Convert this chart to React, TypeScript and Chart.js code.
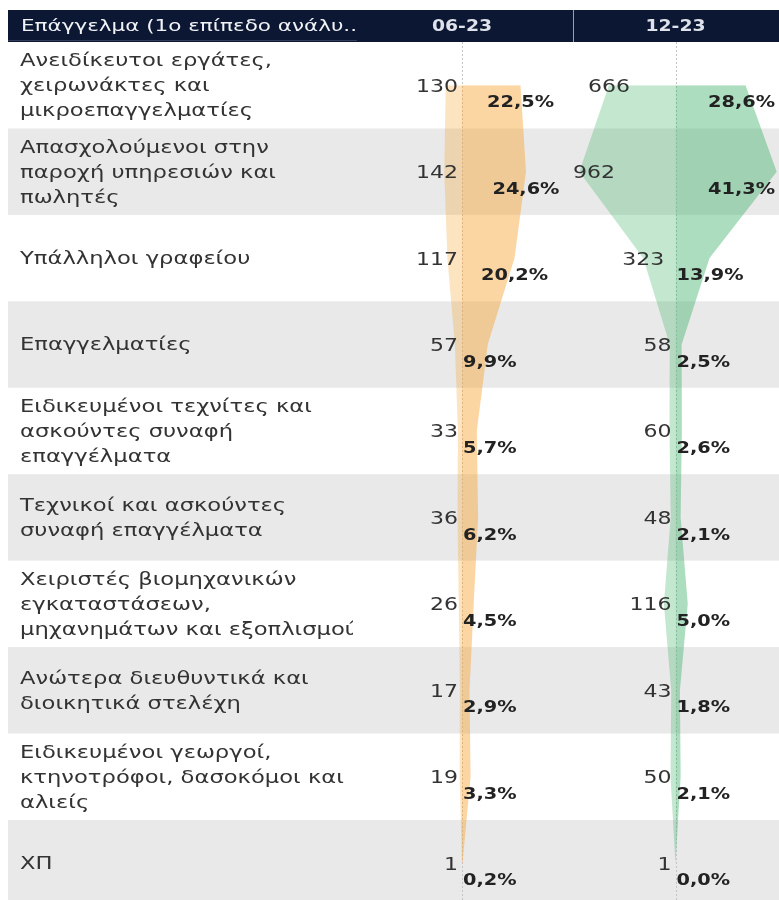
import React, { useEffect, useRef } from 'react';
import { Chart, registerables } from 'chart.js';

Chart.register(...registerables);

// ---------- data ----------
const headerLabel = 'Επάγγελμα (1ο επίπεδο ανάλυ..';
const periods = ['06-23', '12-23'];
const categories = [
  'Ανειδίκευτοι εργάτες,\nχειρωνάκτες και\nμικροεπαγγελματίες',
  'Απασχολούμενοι στην\nπαροχή υπηρεσιών και\nπωλητές',
  'Υπάλληλοι γραφείου',
  'Επαγγελματίες',
  'Ειδικευμένοι τεχνίτες και\nασκούντες συναφή\nεπαγγέλματα',
  'Τεχνικοί και ασκούντες\nσυναφή επαγγέλματα',
  'Χειριστές βιομηχανικών\nεγκαταστάσεων,\nμηχανημάτων και εξοπλισμού',
  'Ανώτερα διευθυντικά και\nδιοικητικά στελέχη',
  'Ειδικευμένοι γεωργοί,\nκτηνοτρόφοι, δασοκόμοι και\nαλιείς',
  'ΧΠ',
];
const counts0623 = [130, 142, 117, 57, 33, 36, 26, 17, 19, 1];
const shares0623 = [22.5, 24.6, 20.2, 9.9, 5.7, 6.2, 4.5, 2.9, 3.3, 0.2];
const counts1223 = [666, 962, 323, 58, 60, 48, 116, 43, 50, 1];
const shares1223 = [28.6, 41.3, 13.9, 2.5, 2.6, 2.1, 5.0, 1.8, 2.1, 0.0];

// ---------- layout / style ----------
const CANVAS_W = 779;
const CANVAS_H = 910;
const TABLE_LEFT = 8;
const HEADER_TOP = 10;
const HEADER_BOTTOM = 42;
const PLOT_LEFT = 357;
const PANE_SPLIT = 573;
const PLOT_BOTTOM = 906.4;
const PLOT_W = CANVAS_W - PLOT_LEFT;
const CENTER_A = 105; // zero offset inside plot, pane A
const CENTER_B = 318.5; // zero offset inside plot, pane B
const PX_PCT_A = 2.6;
const PX_CNT_A = 0.125;
const PX_PCT_B = 2.45;
const PX_CNT_B = 0.1;

const NAVY = '#0b1733';
const ROW_GRAY = '#e9e9e9';
const ORANGE_DARK = 'rgba(247,165,50,0.45)';
const ORANGE_LIGHT = 'rgba(247,165,50,0.30)';
const GREEN_DARK = 'rgba(70,180,110,0.45)';
const GREEN_LIGHT = 'rgba(70,180,110,0.32)';

const FONT_FAMILY = '"DejaVu Sans", sans-serif';
const CAT_FONT = `17px ${FONT_FAMILY}`;
const CNT_FONT = `17px ${FONT_FAMILY}`;
const PCT_FONT = `bold 16px ${FONT_FAMILY}`;
const HEAD_FONT = `16px ${FONT_FAMILY}`;
const PERIOD_FONT = `bold 15px ${FONT_FAMILY}`;

function stretchFor(ctx: CanvasRenderingContext2D, font: string, sample: string, target: number) {
  ctx.font = font;
  return target / ctx.measureText(sample).width;
}

function drawText(
  ctx: CanvasRenderingContext2D,
  text: string,
  x: number,
  y: number,
  font: string,
  color: string,
  sx: number,
  align: 'left' | 'center' = 'left'
) {
  ctx.save();
  ctx.font = font;
  ctx.fillStyle = color;
  ctx.textBaseline = 'middle';
  ctx.textAlign = align;
  ctx.translate(x, y);
  ctx.scale(sx, 1);
  ctx.fillText(text, 0, 0);
  ctx.restore();
}

function textW(ctx: CanvasRenderingContext2D, text: string, font: string, sx: number) {
  ctx.font = font;
  return ctx.measureText(text).width * sx;
}

const fmtPct = (v: number) => v.toFixed(1).replace('.', ',') + '%';

const tablePlugin = {
  id: 'tableDecor',
  beforeDraw(chart: any) {
    const { ctx, chartArea, scales } = chart;
    const y = scales.y;
    const step = y.getPixelForValue(1) - y.getPixelForValue(0);
    ctx.save();
    // alternating rows
    categories.forEach((_, i) => {
      if (i % 2 === 1) {
        const c = y.getPixelForValue(i);
        ctx.fillStyle = ROW_GRAY;
        ctx.fillRect(TABLE_LEFT, c - step / 2, chart.width - TABLE_LEFT, step);
      }
    });
    // header band
    ctx.fillStyle = NAVY;
    ctx.fillRect(TABLE_LEFT, HEADER_TOP, chart.width - TABLE_LEFT, chartArea.top - HEADER_TOP);
    ctx.strokeStyle = 'rgba(200,205,215,0.75)';
    ctx.lineWidth = 1;
    ctx.beginPath();
    ctx.moveTo(PANE_SPLIT + 0.5, HEADER_TOP);
    ctx.lineTo(PANE_SPLIT + 0.5, chartArea.top);
    ctx.stroke();
    ctx.strokeStyle = 'rgba(60,72,100,0.8)';
    ctx.beginPath();
    ctx.moveTo(TABLE_LEFT, chartArea.top - 1.5);
    ctx.lineTo(PLOT_LEFT, chartArea.top - 1.5);
    ctx.stroke();
    ctx.restore();

    const headY = (HEADER_TOP + chartArea.top) / 2 + 1;
    const sxHead = stretchFor(ctx, HEAD_FONT, headerLabel, 336);
    drawText(ctx, headerLabel, 21, headY, HEAD_FONT, '#f2f3f7', sxHead);
    const sxPer = stretchFor(ctx, PERIOD_FONT, periods[0], 60);
    const cA = scales.xPctA.getPixelForValue(0);
    const cB = scales.xPctB.getPixelForValue(0);
    drawText(ctx, periods[0], cA, headY, PERIOD_FONT, '#dfe2ea', sxPer, 'center');
    drawText(ctx, periods[1], cB, headY, PERIOD_FONT, '#dfe2ea', sxPer, 'center');

    // category labels
    const sxCat = stretchFor(ctx, CAT_FONT, 'Ανειδίκευτοι εργάτες,', 252);
    ctx.save();
    ctx.beginPath();
    ctx.rect(TABLE_LEFT, chartArea.top, PLOT_LEFT - 4 - TABLE_LEFT, chartArea.bottom - chartArea.top);
    ctx.clip();
    categories.forEach((label, i) => {
      const lines = label.split('\n');
      const c = y.getPixelForValue(i) + 1.5;
      const lh = 25;
      lines.forEach((ln, k) => {
        drawText(ctx, ln, 20, c + (k - (lines.length - 1) / 2) * lh, CAT_FONT, '#333333', sxCat);
      });
    });
    ctx.restore();
  },
  beforeDatasetsDraw(chart: any) {
    const { ctx, chartArea, scales } = chart;
    ctx.save();
    ctx.strokeStyle = '#c4c4c4';
    ctx.lineWidth = 1;
    ctx.setLineDash([2, 2]);
    [scales.xPctA.getPixelForValue(0), scales.xPctB.getPixelForValue(0)].forEach((x: number) => {
      ctx.beginPath();
      ctx.moveTo(Math.round(x) + 0.5, chartArea.top);
      ctx.lineTo(Math.round(x) + 0.5, chartArea.bottom);
      ctx.stroke();
    });
    ctx.restore();
  },
  afterDatasetsDraw(chart: any) {
    const { ctx, scales } = chart;
    const y = scales.y;
    const sxCnt = stretchFor(ctx, CNT_FONT, '130', 42);
    const sxPct = stretchFor(ctx, PCT_FONT, '22,5%', 67);
    const panes = [
      { counts: counts0623, shares: shares0623, cnt: scales.xCntA, pct: scales.xPctA, left: PLOT_LEFT, right: PANE_SPLIT },
      { counts: counts1223, shares: shares1223, cnt: scales.xCntB, pct: scales.xPctB, left: PANE_SPLIT, right: chart.width },
    ];
    panes.forEach((p) => {
      const center = p.pct.getPixelForValue(0);
      p.counts.forEach((v, i) => {
        const rowC = y.getPixelForValue(i);
        // count label, centred on the left edge point, kept left of the centre line
        const t = String(v);
        const w = textW(ctx, t, CNT_FONT, sxCnt);
        let lx = p.cnt.getPixelForValue(v) - w / 2;
        if (lx + w > center - 4) lx = center - 4 - w;
        if (lx < p.left) lx = p.left;
        drawText(ctx, t, lx, rowC + 2, CNT_FONT, '#333333', sxCnt);
        // share label
        const s = fmtPct(p.shares[i]);
        const sw = textW(ctx, s, PCT_FONT, sxPct);
        let sx = p.pct.getPixelForValue(p.shares[i]) - sw / 2;
        if (sx < center + 1) sx = center + 1;
        if (sx + sw > p.right - 4) sx = p.right - 4 - sw;
        drawText(ctx, s, sx, rowC + 18, PCT_FONT, '#222222', sxPct);
      });
    });
  },
};

const baseLine = {
  fill: 'origin',
  pointRadius: 0,
  pointHoverRadius: 0,
  tension: 0,
  borderWidth: 0,
  borderColor: 'rgba(0,0,0,0)',
  yAxisID: 'y',
};

export default function App() {
  const ref = useRef<HTMLCanvasElement>(null);
  useEffect(() => {
    const canvas = ref.current;
    if (!canvas) return;
    const chart = new Chart(canvas, {
      type: 'line',
      data: {
        labels: categories,
        datasets: [
          { ...baseLine, label: periods[0] + ' πλήθος', data: counts0623, xAxisID: 'xCntA', backgroundColor: ORANGE_LIGHT },
          { ...baseLine, label: periods[0] + ' %', data: shares0623, xAxisID: 'xPctA', backgroundColor: ORANGE_DARK },
          { ...baseLine, label: periods[1] + ' πλήθος', data: counts1223, xAxisID: 'xCntB', backgroundColor: GREEN_LIGHT },
          { ...baseLine, label: periods[1] + ' %', data: shares1223, xAxisID: 'xPctB', backgroundColor: GREEN_DARK },
        ] as any,
      },
      options: {
        indexAxis: 'y',
        responsive: false,
        animation: false,
        events: [],
        layout: {
          padding: { left: PLOT_LEFT, right: 0, top: HEADER_BOTTOM, bottom: CANVAS_H - PLOT_BOTTOM },
        },
        plugins: {
          legend: { display: false },
          tooltip: { enabled: false },
        },
        scales: {
          y: { type: 'category', offset: true, display: false },
          xPctA: {
            type: 'linear', display: false,
            min: -CENTER_A / PX_PCT_A, max: (PLOT_W - CENTER_A) / PX_PCT_A,
          },
          xCntA: {
            type: 'linear', display: false, reverse: true,
            min: -(PLOT_W - CENTER_A) / PX_CNT_A, max: CENTER_A / PX_CNT_A,
          },
          xPctB: {
            type: 'linear', display: false,
            min: -CENTER_B / PX_PCT_B, max: (PLOT_W - CENTER_B) / PX_PCT_B,
          },
          xCntB: {
            type: 'linear', display: false, reverse: true,
            min: -(PLOT_W - CENTER_B) / PX_CNT_B, max: CENTER_B / PX_CNT_B,
          },
        },
      } as any,
      plugins: [tablePlugin],
    });
    return () => chart.destroy();
  }, []);

  return (
    <div
      style={{
        position: 'fixed',
        left: 0,
        top: 0,
        width: CANVAS_W,
        height: 900,
        overflow: 'hidden',
        background: '#ffffff',
      }}
    >
      <canvas ref={ref} width={CANVAS_W} height={CANVAS_H} style={{ display: 'block', width: CANVAS_W, height: CANVAS_H }} />
    </div>
  );
}
